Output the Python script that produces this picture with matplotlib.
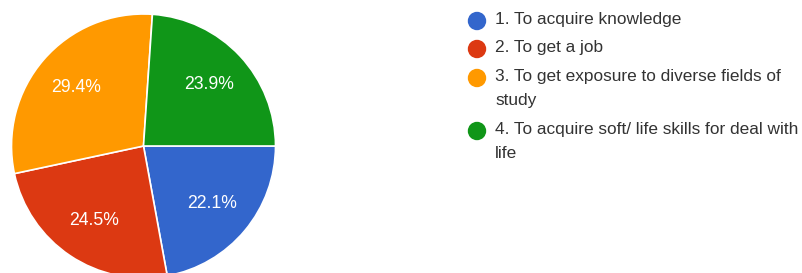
import matplotlib.pyplot as plt
from matplotlib.patches import Circle

plt.rcParams['font.family'] = ['Liberation Sans', 'DejaVu Sans']

# data
labels = ["1. To acquire knowledge",
          "2. To get a job",
          "3. To get exposure to diverse fields of\nstudy",
          "4. To acquire soft/ life skills for deal with\nlife"]
values = [22.1, 24.5, 29.4, 23.9]
colors = ["#3366cc", "#dc3912", "#ff9900", "#109618"]

W, H = 803, 273
fig = plt.figure(figsize=(W / 100, H / 100), dpi=100)

# pie axes, slightly cut at the bottom like the screenshot
ax = fig.add_axes([11.5 / W, -5 / H, 264 / W, 264 / H])
wedges, texts, autotexts = ax.pie(
    values, colors=colors, startangle=0, counterclock=False,
    autopct="%.1f%%", pctdistance=0.68, radius=1,
    wedgeprops=dict(edgecolor="white", linewidth=1.2),
    textprops=dict(color="white", fontsize=12.7))
ax.set_xlim(-1, 1)
ax.set_ylim(-1, 1)
ax.set_aspect("equal")
ax.axis("off")

# legend drawn by hand
lg = fig.add_axes([0, 0, 1, 1])
lg.set_xlim(0, W)
lg.set_ylim(H, 0)
lg.axis("off")
rows = [21, 49, 78, 131]
for lab, col, y in zip(labels, colors, rows):
    lg.add_patch(Circle((477, y), 8.5, color=col))
    lg.text(495, y - 9, lab, fontsize=12.4, color="#333333",
            va="top", ha="left", linespacing=1.75)

fig.savefig("out.png", dpi=100)
